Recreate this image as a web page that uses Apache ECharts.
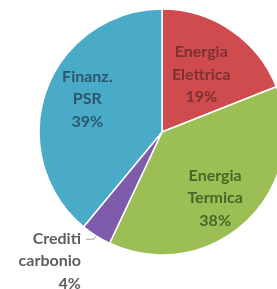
<!DOCTYPE html>
<html>
<head>
<meta charset="utf-8">
<script src="https://cdn.jsdelivr.net/npm/echarts@6/dist/echarts.min.js"></script>
<style>
  html, body { margin: 0; padding: 0; background: #fff; }
  #chart { width: 277px; height: 289px; }
</style>
</head>
<body>
<div id="chart"></div>
<script>
// dati del grafico (percentuali)
var categories = ['Energia\nElettrica', 'Energia\nTermica', 'Crediti\ncarbonio', 'Finanz.\nPSR'];
var values = [19, 38, 4, 39];
var sliceColors = ['#cf4b4e', '#9bbf55', '#7f5cab', '#4aabc8'];
var labelColors = ['#7e3032', '#4a6527', '#5e5e5e', '#2d566a'];

// spostamento delle etichette rispetto alla posizione "inside"
var labelShift = [[3, -4], [9, 19], [0, 22], [-14, -11]];

var chartDom = document.getElementById('chart');
var myChart = echarts.init(chartDom);

var seriesData = values.map(function (v, i) {
    var item = {
        name: categories[i],
        value: v,
        itemStyle: { color: sliceColors[i] },
        label: { color: labelColors[i] }
    };
    if (i === 2) {
        item.label.position = 'outside';
        item.labelLine = { show: true, length: 4, length2: 8, lineStyle: { color: '#a6a6a6', width: 1 } };
    }
    return item;
});

var option = {
    animation: false,
    series: [{
        type: 'pie',
        center: [162, 132],
        radius: 123,
        startAngle: 90,
        clockwise: true,
        data: seriesData,
        itemStyle: { borderColor: '#ffffff', borderWidth: 1.5 },
        label: {
            show: true,
            position: 'inside',
            formatter: '{b}\n{c}%',
            fontFamily: 'Lato',
            fontWeight: 'bold',
            fontSize: 16,
            lineHeight: 22.5,
            align: 'center'
        },
        labelLine: { show: false },
        labelLayout: function (params) {
            var s = labelShift[params.dataIndex];
            return { dx: s[0], dy: s[1] };
        }
    }]
};

myChart.setOption(option);
</script>
</body>
</html>
